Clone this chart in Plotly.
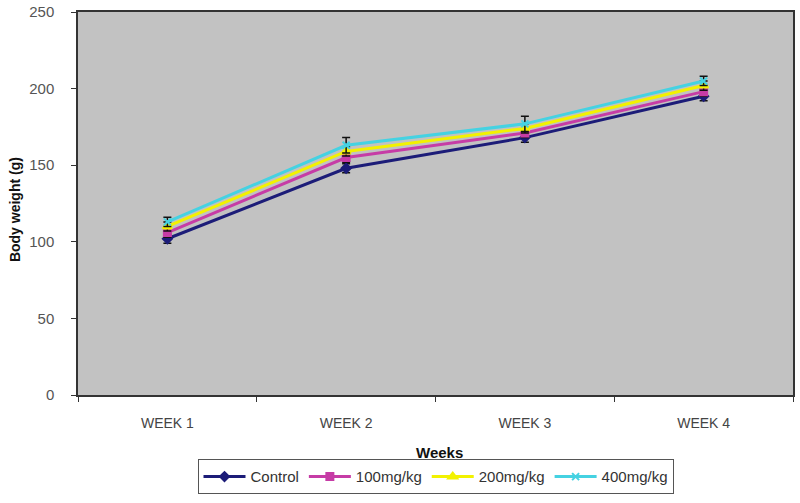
import plotly.graph_objects as go

weeks = ["WEEK 1", "WEEK 2", "WEEK 3", "WEEK 4"]
control = [102, 148, 168, 195]
mg100 = [106, 155, 171, 198]
mg200 = [110, 159, 174, 202]
mg400 = [113, 163, 177, 205]
err_control = [3, 3, 3, 3]
err_100 = [3, 3, 3, 3]
err_200 = [3, 3, 3, 3]
err_400 = [3, 5, 5, 3]

series = [
    ("Control", control, err_control, "#1c1c78", "diamond", 7),
    ("100mg/kg", mg100, err_100, "#c63ca6", "square", 7),
    ("200mg/kg", mg200, err_200, "#f2f200", "triangle-up", 8),
    ("400mg/kg", mg400, err_400, "#45d2e2", "x-thin", 7),
]

fig = go.Figure()
for name, vals, errs, color, sym, size in series:
    fig.add_trace(go.Scatter(
        x=weeks, y=vals, name=name, mode="lines+markers",
        line=dict(color=color, width=3),
        marker=dict(symbol=sym, size=size, color=color,
                    line=dict(color=color, width=2)),
        error_y=dict(type="data", array=errs, visible=True,
                     color="#111111", thickness=1.5, width=4),
    ))

font_family = "Liberation Sans, Arial, sans-serif"
fig.update_layout(
    width=800, height=503,
    margin=dict(l=78, r=7, t=12, b=108),
    paper_bgcolor="white",
    plot_bgcolor="#c2c2c2",
    font=dict(family=font_family, size=13, color="#444444"),
    showlegend=True,
    legend=dict(
        orientation="h", x=0.5, xanchor="center", y=-0.168, yanchor="top",
        bordercolor="#555555", borderwidth=1, bgcolor="white",
        font=dict(family=font_family, size=15, color="#333333"),
        itemwidth=42, tracegroupgap=0,
    ),
    xaxis=dict(
        type="category", range=[-0.5, 3.5], showgrid=False,
        tickson="boundaries",
        ticks="outside", ticklen=5, tickcolor="#333333",
        showline=True, linecolor="#333333", linewidth=1.5, mirror=True,
        automargin=False, ticklabelstandoff=14,
        tickfont=dict(size=14, color="#444444"),
    ),
    yaxis=dict(
        range=[0, 250], dtick=50, showgrid=False, zeroline=False,
        ticks="outside", ticklen=5, tickcolor="#333333",
        showline=True, linecolor="#333333", linewidth=1.5, mirror=True,
        automargin=False, ticklabelstandoff=14, ticklabeloverflow="allow",
        tickfont=dict(size=15, color="#555555"),
    ),
    annotations=[
        dict(text="<b>Weeks</b>", xref="paper", yref="paper",
             x=0.506, y=-0.149, xanchor="center", yanchor="middle",
             showarrow=False,
             font=dict(family=font_family, size=15, color="#111111")),
        dict(text="<b>Body weight (g)</b>", xref="paper", yref="paper",
             x=-0.088, y=0.483, xanchor="center", yanchor="middle",
             textangle=-90, showarrow=False,
             font=dict(family=font_family, size=14, color="#111111")),
    ],
)

fig.write_html(
    "out.html",
    config={"displayModeBar": False},
    post_script="document.body.style.margin='0';document.body.style.padding='0';",
)
